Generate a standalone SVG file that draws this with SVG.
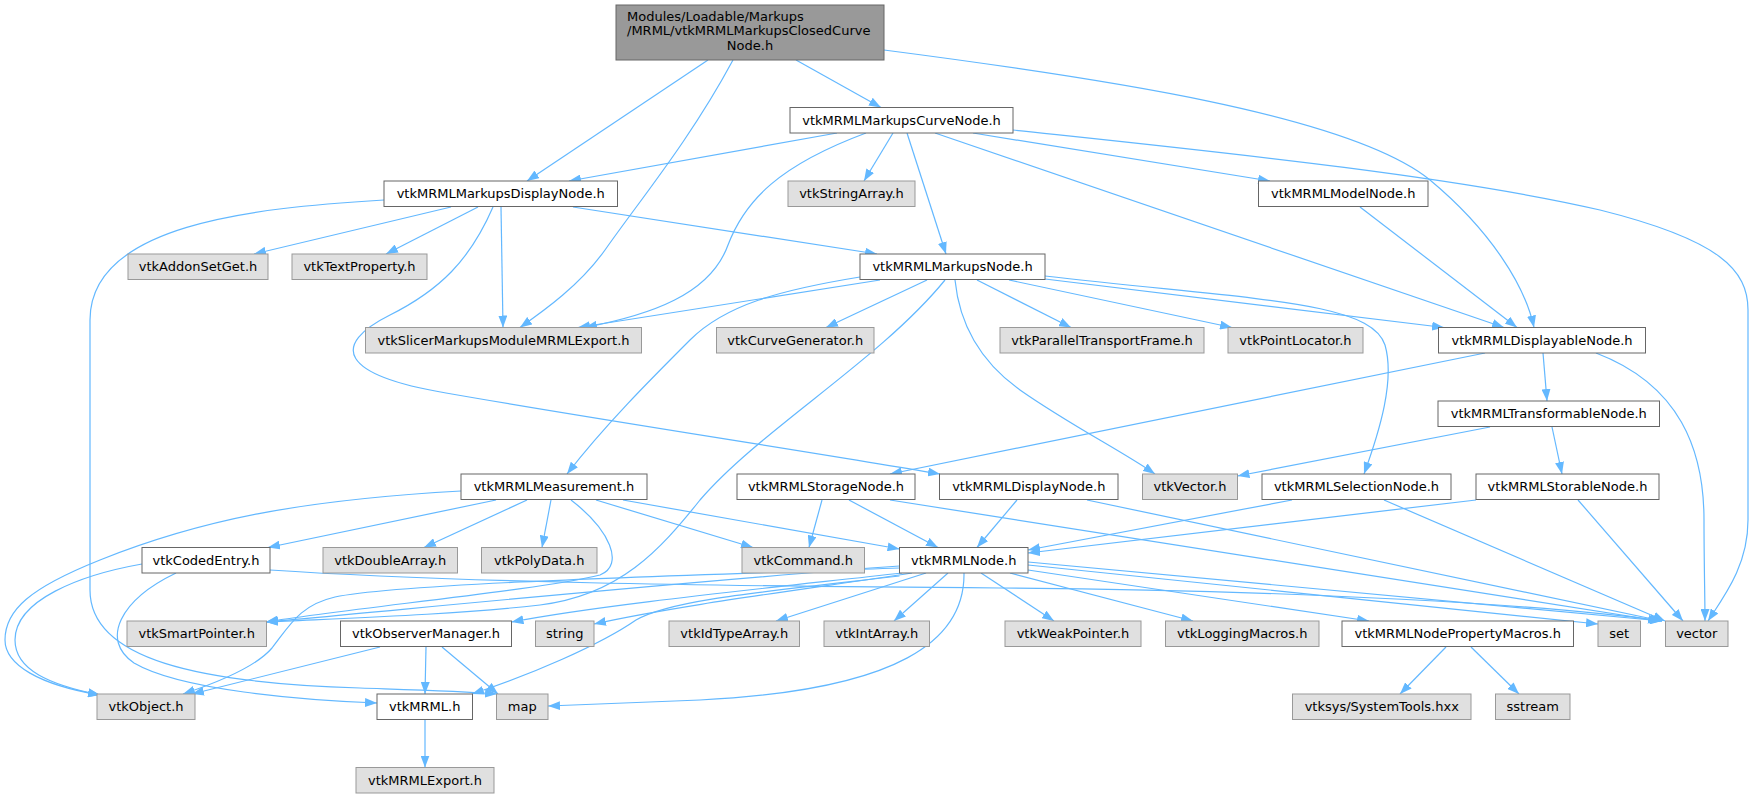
<svg xmlns="http://www.w3.org/2000/svg" width="1753" height="799" viewBox="0 0 1753 799">
<defs>
<style>
.w{fill:#ffffff;stroke:#666666;stroke-width:1}
.g{fill:#e0e0e0;stroke:#999999;stroke-width:1}
.r{fill:#999999;stroke:#666666;stroke-width:1}
text{font-family:"DejaVu Sans","Liberation Sans",sans-serif;font-size:13px;text-anchor:middle;fill:#000000}
text.l{text-anchor:start}
#edges path{fill:none;stroke:#63b8ff;stroke-width:1.2;marker-end:url(#a)}
</style>
<marker id="a" markerUnits="userSpaceOnUse" markerWidth="13" markerHeight="9" refX="12" refY="4.5" orient="auto"><path d="M0,0 L12,4.5 L0,9 z" fill="#63b8ff"/></marker>
</defs>
<rect width="1753" height="799" fill="#ffffff"/>
<g id="edges">
<path d="M708,60 L527,181"/>
<path d="M733,60 C690,140 640,200 605,250 C580,285 545,310 520,327.5"/>
<path d="M796,60 L881,107.5"/>
<path d="M884,50 C1100,78 1350,115 1430,180 C1490,230 1525,285 1534,327.5"/>
<path d="M837,133 L569,181"/>
<path d="M866,133 C780,165 745,200 728,245 C710,295 650,315 585,327.5"/>
<path d="M893,133 L864,181"/>
<path d="M907,133 L946,254"/>
<path d="M935,133 L1504,327.5"/>
<path d="M973,133 L1270,181"/>
<path d="M1013,130 C1200,150 1450,175 1600,210 C1720,240 1748,270 1748,310 L1748,520 C1748,565 1725,595 1708,621"/>
<path d="M1360,207 L1517,327.5"/>
<path d="M384,200 C250,208 90,225 90,320 L90,590 C90,660 200,683 360,688 C420,690 460,691 497,694"/>
<path d="M451,207 L254,254"/>
<path d="M478,207 L386,254"/>
<path d="M501,207 L503,327.5"/>
<path d="M493,207 C470,260 440,290 390,315 C330,345 340,375 446,393 C600,420 800,450 940,474"/>
<path d="M573,207 L877,254"/>
<path d="M880,280 L578,327.5"/>
<path d="M927,280 L826,327.5"/>
<path d="M977,280 L1071,327.5"/>
<path d="M1009,280 L1232,327.5"/>
<path d="M1045,279 L1444,327.5"/>
<path d="M1045,276 C1250,300 1370,300 1385,345 C1395,380 1380,430 1364,474"/>
<path d="M955,280 C960,330 985,365 1020,390 C1070,425 1120,450 1155,474"/>
<path d="M860,277 C780,290 725,305 690,340 C650,380 605,425 567,474"/>
<path d="M945,280 C880,360 760,430 700,500 C660,550 620,595 540,605 C450,615 350,618 266,622"/>
<path d="M1485,353 L890,474"/>
<path d="M1543,353 L1547,401"/>
<path d="M1596,353 C1680,385 1704,450 1704,520 C1704,560 1705,600 1705,621"/>
<path d="M1490,427 L1237.5,476"/>
<path d="M1552,427 L1562,474"/>
<path d="M822,500 L809,547.5"/>
<path d="M849,500 L938,547.5"/>
<path d="M890,500 L1660,621"/>
<path d="M1017,500 L977,547.5"/>
<path d="M1087,500 L1662,621"/>
<path d="M1292,500 L1028,550"/>
<path d="M1384,500 L1665,621"/>
<path d="M1476,500 L1028,553"/>
<path d="M1578,500 L1683,621"/>
<path d="M461,491 C300,500 200,520 100,560 C30,588 5,610 5,640 C5,665 40,685 100,695"/>
<path d="M496,500 L268,547.5"/>
<path d="M527,500 L424,547.5"/>
<path d="M551,500 L542,547.5"/>
<path d="M571,500 C610,530 625,565 600,575 C540,590 350,608 266,622"/>
<path d="M596,500 L753,547.5"/>
<path d="M623,500 L899.5,549"/>
<path d="M142,564 C80,575 15,600 15,640 C15,670 50,685 100,695"/>
<path d="M176,573 C120,600 100,640 134,663 C180,690 300,700 377,703"/>
<path d="M270,570 C450,582 700,586 1000,588 C1300,590 1550,605 1662,621"/>
<path d="M899.5,566 C700,580 400,610 266,622"/>
<path d="M902,573 C750,590 600,605 511.5,622"/>
<path d="M912,573 C800,590 680,605 594,624"/>
<path d="M926,573 L776,621"/>
<path d="M948,573 L894,621"/>
<path d="M964,573 C965,640 900,690 700,700 C620,703 580,705 548,706"/>
<path d="M981,573 L1054,621"/>
<path d="M1010,573 L1193,621"/>
<path d="M1028,570 L1369,621"/>
<path d="M1028,565 L1598,624"/>
<path d="M1028,562 L1662,621"/>
<path d="M899.5,576 C760,592 670,600 636,620 C600,645 530,675 472,694"/>
<path d="M899.5,568 C700,575 400,583 335,597 C300,605 290,625 272,648 C255,668 210,685 183,694"/>
<path d="M380,647 L192,694"/>
<path d="M426,647 L425,694"/>
<path d="M442,647 L498,694"/>
<path d="M425,720 L425,767.5"/>
<path d="M1446,647 L1400,694"/>
<path d="M1471,647 L1519,694"/>
</g>
<g id="root"><rect class="r" x="616" y="5" width="268" height="55"/><text class="l" x="627" y="20.5">Modules/Loadable/Markups</text><text class="l" x="627" y="35">/MRML/vtkMRMLMarkupsClosedCurve</text><text x="750" y="49.5">Node.h</text></g>
<g id="curveNode"><rect class="w" x="790" y="107.5" width="223" height="25.5"/><text x="901.5" y="124.8">vtkMRMLMarkupsCurveNode.h</text></g>
<g id="markupsDisplayNode"><rect class="w" x="384" y="181" width="233.5" height="25.5"/><text x="500.75" y="198.3">vtkMRMLMarkupsDisplayNode.h</text></g>
<g id="stringArray"><rect class="g" x="788" y="181" width="127" height="25.5"/><text x="851.5" y="198.3">vtkStringArray.h</text></g>
<g id="modelNode"><rect class="w" x="1258.5" y="181" width="169.5" height="25.5"/><text x="1343.25" y="198.3">vtkMRMLModelNode.h</text></g>
<g id="addonSetGet"><rect class="g" x="128" y="254" width="140" height="25.5"/><text x="198" y="271.3">vtkAddonSetGet.h</text></g>
<g id="textProperty"><rect class="g" x="292" y="254" width="135" height="25.5"/><text x="359.5" y="271.3">vtkTextProperty.h</text></g>
<g id="markupsNode"><rect class="w" x="860" y="254" width="185" height="25.5"/><text x="952.5" y="271.3">vtkMRMLMarkupsNode.h</text></g>
<g id="slicerExport"><rect class="g" x="365.5" y="327.5" width="276" height="25.5"/><text x="503.5" y="344.8">vtkSlicerMarkupsModuleMRMLExport.h</text></g>
<g id="curveGenerator"><rect class="g" x="716.5" y="327.5" width="157.5" height="25.5"/><text x="795.25" y="344.8">vtkCurveGenerator.h</text></g>
<g id="parallelTransportFrame"><rect class="g" x="1000" y="327.5" width="204" height="25.5"/><text x="1102" y="344.8">vtkParallelTransportFrame.h</text></g>
<g id="pointLocator"><rect class="g" x="1228" y="327.5" width="135" height="25.5"/><text x="1295.5" y="344.8">vtkPointLocator.h</text></g>
<g id="displayableNode"><rect class="w" x="1438.5" y="327.5" width="207" height="25.5"/><text x="1542" y="344.8">vtkMRMLDisplayableNode.h</text></g>
<g id="transformableNode"><rect class="w" x="1438" y="401" width="221.5" height="25.5"/><text x="1548.75" y="418.3">vtkMRMLTransformableNode.h</text></g>
<g id="measurement"><rect class="w" x="461" y="474" width="186" height="25.5"/><text x="554" y="491.3">vtkMRMLMeasurement.h</text></g>
<g id="storageNode"><rect class="w" x="737" y="474" width="178" height="25.5"/><text x="826" y="491.3">vtkMRMLStorageNode.h</text></g>
<g id="displayNode"><rect class="w" x="939.5" y="474" width="178.5" height="25.5"/><text x="1028.75" y="491.3">vtkMRMLDisplayNode.h</text></g>
<g id="vtkVector"><rect class="g" x="1142.5" y="474" width="95" height="25.5"/><text x="1190" y="491.3">vtkVector.h</text></g>
<g id="selectionNode"><rect class="w" x="1262" y="474" width="189" height="25.5"/><text x="1356.5" y="491.3">vtkMRMLSelectionNode.h</text></g>
<g id="storableNode"><rect class="w" x="1476" y="474" width="183" height="25.5"/><text x="1567.5" y="491.3">vtkMRMLStorableNode.h</text></g>
<g id="codedEntry"><rect class="w" x="142" y="547.5" width="128" height="25.5"/><text x="206" y="564.8">vtkCodedEntry.h</text></g>
<g id="doubleArray"><rect class="g" x="323" y="547.5" width="134.5" height="25.5"/><text x="390.25" y="564.8">vtkDoubleArray.h</text></g>
<g id="polyData"><rect class="g" x="481.5" y="547.5" width="115.5" height="25.5"/><text x="539.25" y="564.8">vtkPolyData.h</text></g>
<g id="command"><rect class="g" x="742" y="547.5" width="122.5" height="25.5"/><text x="803.25" y="564.8">vtkCommand.h</text></g>
<g id="mrmlNode"><rect class="w" x="899.5" y="547.5" width="128.5" height="25.5"/><text x="963.75" y="564.8">vtkMRMLNode.h</text></g>
<g id="smartPointer"><rect class="g" x="127" y="621" width="139.5" height="25.5"/><text x="196.75" y="638.3">vtkSmartPointer.h</text></g>
<g id="observerManager"><rect class="w" x="340.5" y="621" width="171" height="25.5"/><text x="426" y="638.3">vtkObserverManager.h</text></g>
<g id="string"><rect class="g" x="535.5" y="621" width="58.5" height="25.5"/><text x="564.75" y="638.3">string</text></g>
<g id="idTypeArray"><rect class="g" x="669" y="621" width="130.5" height="25.5"/><text x="734.25" y="638.3">vtkIdTypeArray.h</text></g>
<g id="intArray"><rect class="g" x="824" y="621" width="105.5" height="25.5"/><text x="876.75" y="638.3">vtkIntArray.h</text></g>
<g id="weakPointer"><rect class="g" x="1005" y="621" width="136" height="25.5"/><text x="1073" y="638.3">vtkWeakPointer.h</text></g>
<g id="loggingMacros"><rect class="g" x="1165.5" y="621" width="153.5" height="25.5"/><text x="1242.25" y="638.3">vtkLoggingMacros.h</text></g>
<g id="nodePropertyMacros"><rect class="w" x="1342" y="621" width="231.5" height="25.5"/><text x="1457.75" y="638.3">vtkMRMLNodePropertyMacros.h</text></g>
<g id="set"><rect class="g" x="1598" y="621" width="42.5" height="25.5"/><text x="1619.25" y="638.3">set</text></g>
<g id="vector"><rect class="g" x="1665.5" y="621" width="62.5" height="25.5"/><text x="1696.75" y="638.3">vector</text></g>
<g id="vtkObject"><rect class="g" x="97" y="694" width="98" height="25.5"/><text x="146" y="711.3">vtkObject.h</text></g>
<g id="vtkMRML"><rect class="w" x="377" y="694" width="95.5" height="25.5"/><text x="424.75" y="711.3">vtkMRML.h</text></g>
<g id="map"><rect class="g" x="496.5" y="694" width="51.5" height="25.5"/><text x="522.25" y="711.3">map</text></g>
<g id="systemTools"><rect class="g" x="1292.5" y="694" width="178.5" height="25.5"/><text x="1381.75" y="711.3">vtksys/SystemTools.hxx</text></g>
<g id="sstream"><rect class="g" x="1495.5" y="694" width="74.5" height="25.5"/><text x="1532.75" y="711.3">sstream</text></g>
<g id="mrmlExport"><rect class="g" x="356" y="767.5" width="138" height="25.5"/><text x="425" y="784.8">vtkMRMLExport.h</text></g>
</svg>
